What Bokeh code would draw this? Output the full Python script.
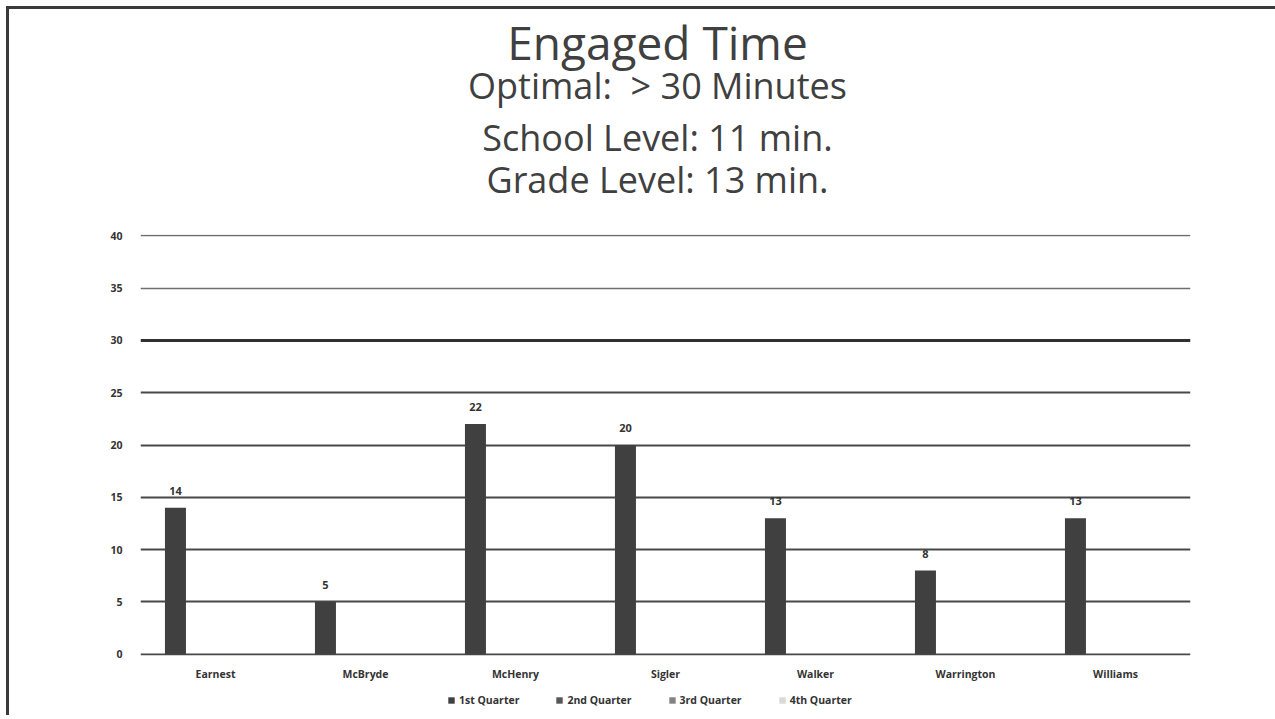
from bokeh.plotting import figure
from bokeh.layouts import column
from bokeh.models import (FactorRange, Range1d, FixedTicker, Grid, Legend, LegendItem,
                          LabelSet, Label, ColumnDataSource)
from bokeh.core.properties import value
from bokeh.transform import dodge
from bokeh.embed import file_html
from bokeh.resources import INLINE

# ---- data ----
teachers = ["Earnest", "McBryde", "McHenry", "Sigler", "Walker", "Warrington", "Williams"]
q1 = [14, 5, 22, 20, 13, 8, 13]
q2 = [0, 0, 0, 0, 0, 0, 0]
q3 = [0, 0, 0, 0, 0, 0, 0]
q4 = [0, 0, 0, 0, 0, 0, 0]
series_names = ["1st Quarter", "2nd Quarter", "3rd Quarter", "4th Quarter"]
y_ticks = [0, 5, 10, 15, 20, 25, 30, 35, 40]
title_lines = ["Engaged Time", "Optimal: \u00a0> 30 Minutes", "School Level: 11 min.", "Grade Level: 13 min."]

colors = ["#404040", "#575757", "#838383", "#d9d9d9"]
offsets = [-0.267, -0.089, 0.089, 0.267]
keys = ["q1", "q2", "q3", "q4"]

src = ColumnDataSource(dict(x=teachers, q1=q1, q2=q2, q3=q3, q4=q4,
                            q1_label=[str(v) for v in q1]))

W = 1266
HEAD_H = 217


def bare(fig):
    fig.axis.visible = False
    fig.xgrid.visible = False
    fig.ygrid.visible = False
    fig.outline_line_color = None
    fig.title.text = ""
    return fig


# ---------- header with the titles ----------
head = bare(figure(width=W, height=HEAD_H, x_range=Range1d(0, 1), y_range=Range1d(0, 1),
                   output_backend="svg", toolbar_location=None, min_border=0))
title_sizes = ["46px", "36px", "36px", "36px"]
title_baselines = [59, 97, 149, 191]       # page y of each baseline
baseline_shift = [18, 12, 12, 12]
head_bottom = 9 + HEAD_H
for txt, sz, base, sh in zip(title_lines, title_sizes, title_baselines, baseline_shift):
    head.add_layout(Label(x=517, y=head_bottom - base + sh, x_units="screen", y_units="screen",
                          text=txt, text_align="center", text_baseline="alphabetic",
                          text_font="Open Sans", text_font_size=sz, text_color="#404040"))

# ---------- main chart ----------
p = figure(width=W, height=459, x_range=FactorRange(*teachers, range_padding=0),
           y_range=Range1d(-0.12, 40.12), output_backend="svg", toolbar_location=None,
           min_border_left=131, min_border_right=85, min_border_bottom=30, min_border_top=8)
p.title.text = ""
p.outline_line_color = None

p.xgrid.visible = False
p.ygrid.visible = False
p.add_layout(Grid(dimension=1, ticker=FixedTicker(ticks=[t for t in y_ticks if t < 30]),
                  grid_line_color="#484848", grid_line_width=2))
p.add_layout(Grid(dimension=1, ticker=FixedTicker(ticks=[t for t in y_ticks if t == 30]),
                  grid_line_color="#303030", grid_line_width=3))
p.add_layout(Grid(dimension=1, ticker=FixedTicker(ticks=[t for t in y_ticks if t > 30]),
                  grid_line_color="#6e6e6e", grid_line_width=1.5))

for key, off, col in zip(keys, offsets, colors):
    p.vbar(x=dodge("x", off, range=p.x_range), top=key, width=0.14, source=src,
           fill_color=col, line_color=None)

labels = LabelSet(x=dodge("x", offsets[0], range=p.x_range), y="q1", text="q1_label", source=src,
                  text_align="center", text_baseline="bottom", y_offset=13,
                  text_font=value("Open Sans"), text_font_style="bold", text_font_size="11px",
                  text_color="#333333")
p.add_layout(labels)

p.yaxis.ticker = FixedTicker(ticks=y_ticks)
for ax in (p.xaxis, p.yaxis):
    ax.axis_line_color = None
    ax.major_tick_line_color = None
    ax.minor_tick_line_color = None
    ax.major_label_text_font = "Open Sans"
    ax.major_label_text_font_style = "bold"
    ax.major_label_text_font_size = "10.5px"
    ax.major_label_text_color = "#333333"
p.yaxis.major_label_standoff = 12
p.xaxis.major_label_standoff = 5

# ---------- footer with the legend ----------
foot = bare(figure(width=W, height=30, x_range=FactorRange(*teachers), y_range=Range1d(1000, 1001),
                   output_backend="svg", toolbar_location=None, min_border=0))
leg_renderers = []
for key, off, col in zip(keys, offsets, colors):
    r = foot.vbar(x=dodge("x", off, range=foot.x_range), top=key, width=0.14, source=src,
                  fill_color=col, line_color=None, visible=False)
    leg_renderers.append(r)
legend = Legend(items=[LegendItem(label=n, renderers=[r]) for n, r in zip(series_names, leg_renderers)],
                orientation="horizontal", location=(307, 8), border_line_color=None,
                background_fill_alpha=0, glyph_width=8, glyph_height=8, spacing=36,
                label_text_font="Open Sans", label_text_font_style="bold",
                label_text_font_size="10.5px", label_text_color="#333333",
                padding=2, margin=0, label_standoff=4)
foot.add_layout(legend, "center")

page = column(head, p, foot, spacing=0,
              styles={"border-left": "3px solid #3a3a3a", "border-top": "3px solid #3a3a3a",
                      "margin-left": "6px", "margin-top": "6px"})

open("out.html", "w").write(file_html(page, INLINE))
